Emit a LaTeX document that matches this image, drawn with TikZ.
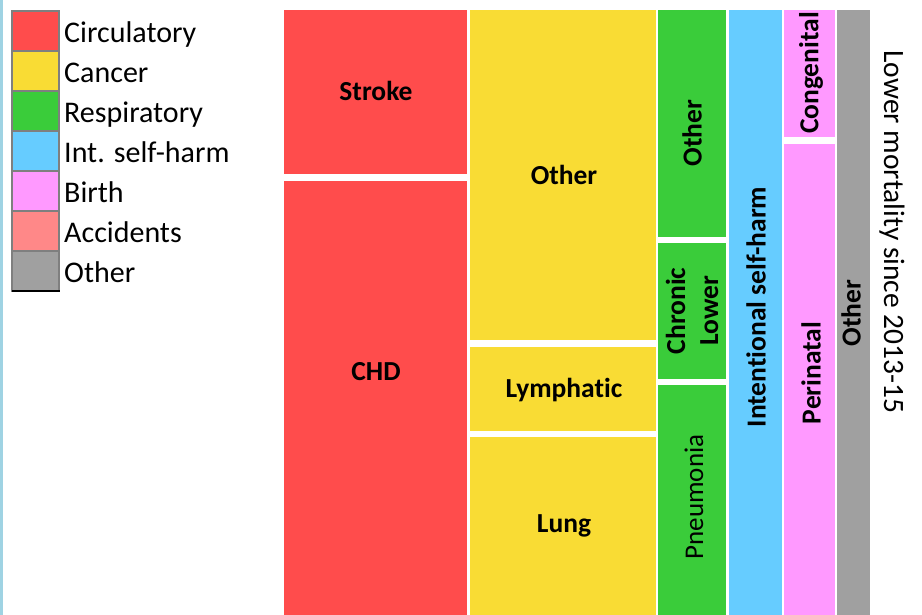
\documentclass[tikz,border=0pt]{standalone}
\usepackage{fontspec}
\setmainfont{Carlito}[Ligatures=NoCommon]
\definecolor{cred}{HTML}{FF4C4C}
\definecolor{cyel}{HTML}{F9DC34}
\definecolor{cgrn}{HTML}{3ACC3A}
\definecolor{cblu}{HTML}{66CCFF}
\definecolor{cpnk}{HTML}{FF99FF}
\definecolor{cacc}{HTML}{FF8888}
\definecolor{cgry}{HTML}{A0A0A0}
\definecolor{edgeblue}{HTML}{9FD3E3}
\definecolor{swborder}{HTML}{7F7F7F}
\tikzset{
  lbl/.style={inner sep=0pt, font=\fontsize{27.5}{33}\selectfont\bfseries, align=center},
  lblv/.style={lbl, rotate=90},
  lgtext/.style={anchor=base west, inner sep=0pt, font=\fontsize{30}{34}\selectfont},
  swatch/.style={draw=swborder, line width=2pt},
}
\begin{document}
\begin{tikzpicture}[x=1pt,y=-1pt]
\useasboundingbox (0,0) rectangle (922,615);
\fill[white] (0,0) rectangle (922,615);
% left edge line
\fill[edgeblue] (0,0) rectangle (2.5,615);
% legend
\foreach \c/\t [count=\i from 0] in {cred/Circulatory,cyel/Cancer,cgrn/Respiratory,cblu/Int. self-harm,cpnk/Birth,cacc/Accidents,cgry/Other}{
  \filldraw[swatch, fill=\c] (12,11+40*\i) rectangle (59,51+40*\i);
  \node[lgtext] (lg\i) at (64,42.5+40*\i) {\t};
}
\draw[line width=2pt] (12,291) -- (59.5,291);
% circulatory
\fill[cred] (284,10) rectangle (467,174);
\fill[cred] (284,181) rectangle (467,615);
% cancer
\fill[cyel] (470,10) rectangle (656,340);
\fill[cyel] (470,347) rectangle (656,431);
\fill[cyel] (470,437) rectangle (656,615);
% respiratory
\fill[cgrn] (658,10) rectangle (726,237);
\fill[cgrn] (658,243) rectangle (726,379);
\fill[cgrn] (658,385) rectangle (726,615);
% self-harm
\fill[cblu] (729,10) rectangle (782,615);
% birth
\fill[cpnk] (784,10) rectangle (835,137);
\fill[cpnk] (784,144) rectangle (835,615);
% other
\fill[cgry] (837,10) rectangle (870,615);
% labels
\node[lbl] (stroke) at (376,91) {Stroke};
\node[lbl] (chd) at (376,372) {CHD};
\node[lbl] (cother) at (564,175) {Other};
\node[lbl] (lymph) at (564,390) {Lymphatic};
\node[lbl] (lung) at (564,526) {Lung};
\node[lblv] (rother) at (692,133) {Other};
\node[lblv] (chronic) at (692,311) {Chronic\\Lower};
\node[lblv, font=\fontsize{27}{32}\selectfont] (pneu) at (694,497) {Pneumonia};
\node[lblv] (ish) at (756,307) {Intentional self-harm};
\node[lblv] (cong) at (811,73) {Congenital};
\node[lblv] (peri) at (811,373) {Perinatal};
\node[lblv] (oother) at (851,313) {Other};
\node[inner sep=0pt, rotate=-90, font=\fontsize{29.5}{34}\selectfont] (lower) at (892,232) {Lower mortality since 2013-15};
\end{tikzpicture}
\end{document}
